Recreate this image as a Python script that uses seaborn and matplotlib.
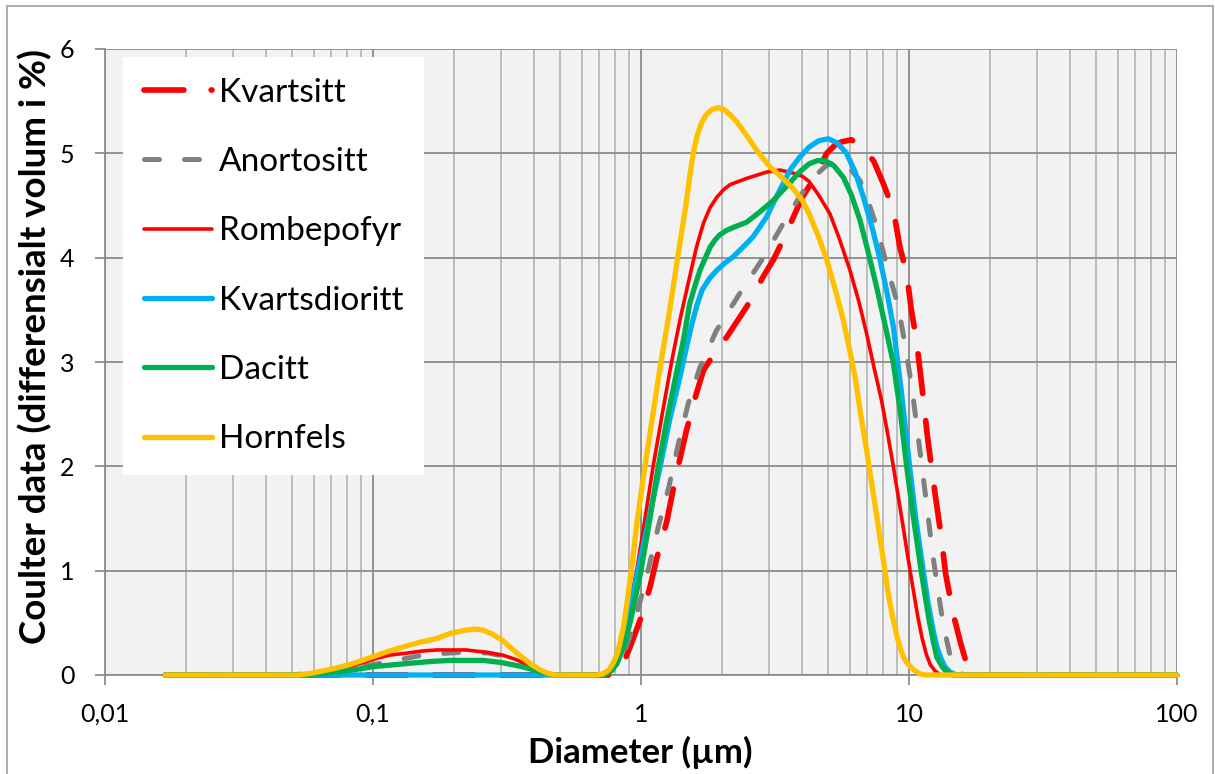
import numpy as np
import pandas as pd
import matplotlib
matplotlib.use("Agg")
import matplotlib.pyplot as plt
import seaborn as sns
from matplotlib.ticker import LogLocator, FixedLocator, FixedFormatter, NullFormatter
from matplotlib.patches import Rectangle

# ---------------- data ----------------
series_names = ["Kvartsitt", "Anortositt", "Rombepofyr", "Kvartsdioritt", "Dacitt", "Hornfels"]

kvartsitt_d = [0.0168, 0.76, 0.79, 0.82, 0.86, 0.92, 0.99, 1.08, 1.14, 1.25, 1.34, 1.48, 1.61,
               1.71, 1.9, 2.09, 2.48, 2.86, 3.12, 3.45, 3.98, 4.45, 4.93, 5.3, 5.6, 6.1, 6.76,
               7.4, 8.02, 8.74, 9.25, 9.8, 10.2, 10.66, 11.1, 11.7, 12.3, 13.2, 13.7, 14.6,
               15.6, 16.4, 17.2, 17.9, 100]
kvartsitt_v = [0, 0, 0.01, 0.04, 0.11, 0.3, 0.52, 0.84, 1.1, 1.48, 1.87, 2.35, 2.7,
               2.92, 3.1, 3.24, 3.53, 3.82, 3.98, 4.21, 4.57, 4.77, 5.0, 5.08, 5.11, 5.13, 5.06,
               4.92, 4.71, 4.46, 4.1, 3.85, 3.5, 3.21, 2.83, 2.3, 1.87, 1.32, 0.97, 0.59,
               0.3, 0.11, 0.03, 0, 0]

anortositt_d = [0.0168, 0.05, 0.07, 0.085, 0.1, 0.116, 0.153, 0.19, 0.224, 0.27, 0.32, 0.37,
                0.42, 0.46, 0.49, 0.72, 0.76, 0.81, 0.86, 0.91, 0.96, 1.01, 1.06, 1.16, 1.27,
                1.38, 1.5, 1.66, 1.91, 2.34, 2.86, 3.4, 3.9, 4.4, 4.9, 5.37, 5.9, 6.56, 7.0,
                7.57, 8.35, 9.12, 9.8, 10.4, 11.3, 12.3, 13.4, 14.2, 15.0, 16.0, 100]
anortositt_v = [0, 0, 0.04, 0.07, 0.1, 0.13, 0.19, 0.21, 0.22, 0.21, 0.17, 0.1,
                0.04, 0.01, 0, 0, 0.02, 0.08, 0.2, 0.37, 0.57, 0.78, 0.99, 1.42, 1.8,
                2.22, 2.6, 2.95, 3.3, 3.66, 4.0, 4.33, 4.58, 4.77, 4.88, 4.93, 4.88, 4.74, 4.56,
                4.3, 3.88, 3.53, 3.08, 2.63, 1.9, 1.13, 0.49, 0.2, 0.06, 0, 0]

rombepofyr_d = [0.0168, 0.057, 0.065, 0.075, 0.087, 0.1, 0.115, 0.134, 0.153, 0.173, 0.222,
                0.26, 0.305, 0.34, 0.37, 0.40, 0.43, 0.46, 0.49,
                0.70, 0.73, 0.76, 0.79, 0.83, 0.88, 0.92, 0.964, 1.035, 1.11, 1.2, 1.3, 1.41,
                1.52, 1.61, 1.71, 1.81, 1.92, 2.03, 2.15, 2.48, 2.94, 3.3, 3.7, 4.0, 4.24,
                4.6, 5.07, 5.5, 6.02, 6.5, 6.95, 7.4, 7.9, 8.3, 8.74, 9.4, 10.09, 10.8, 11.2,
                11.6, 12.0, 12.5, 13.1, 100]
rombepofyr_v = [0, 0, 0.02, 0.05, 0.1, 0.15, 0.19, 0.21, 0.23, 0.24, 0.24,
                0.22, 0.19, 0.15, 0.11, 0.07, 0.03, 0.01, 0,
                0, 0.01, 0.05, 0.12, 0.27, 0.52, 0.75, 1.0, 1.5, 2.0, 2.5, 3.0, 3.45,
                3.82, 4.1, 4.33, 4.48, 4.58, 4.65, 4.70, 4.76, 4.82, 4.84, 4.81, 4.78, 4.73,
                4.6, 4.42, 4.18, 3.88, 3.58, 3.27, 2.95, 2.63, 2.33, 2.0, 1.5, 1.0, 0.55, 0.35,
                0.2, 0.1, 0.04, 0, 0]

kvartsdioritt_d = [0.0168, 0.70, 0.73, 0.76, 0.80, 0.84, 0.88, 0.93, 0.975, 1.07, 1.18, 1.28,
                   1.39, 1.46, 1.55, 1.62, 1.69, 1.8, 1.92, 2.06, 2.21, 2.4, 2.62, 2.94, 3.3,
                   3.6, 3.9, 4.24, 4.6, 5.0, 5.4, 5.85, 6.3, 6.76, 7.3, 7.8, 8.3, 8.74, 9.38,
                   10.0, 10.6, 11.3, 11.8, 12.3, 12.7, 13.1, 13.6, 14.2, 15.0, 100]
kvartsdioritt_v = [0, 0, 0.01, 0.04, 0.14, 0.3, 0.49, 0.75, 1.0, 1.5, 2.0, 2.45,
                   2.83, 3.08, 3.37, 3.55, 3.69, 3.8, 3.88, 3.95, 4.01, 4.1, 4.20, 4.39, 4.65,
                   4.84, 4.96, 5.06, 5.12, 5.14, 5.1, 5.0, 4.82, 4.58, 4.28, 3.98, 3.65, 3.34, 2.7,
                   2.05, 1.5, 1.0, 0.68, 0.43, 0.27, 0.17, 0.08, 0.03, 0, 0]

dacitt_d = [0.0168, 0.05, 0.062, 0.075, 0.09, 0.1, 0.134, 0.165, 0.194, 0.258, 0.30, 0.345,
            0.385, 0.42, 0.46, 0.49, 0.71, 0.74, 0.77, 0.81, 0.86, 0.91, 0.96, 1.0, 1.08, 1.16,
            1.25, 1.34, 1.44, 1.52, 1.59, 1.66, 1.74, 1.81, 1.89, 1.97, 2.08, 2.21, 2.48, 2.78,
            3.12, 3.6, 3.9, 4.24, 4.55, 4.86, 5.25, 5.69, 6.1, 6.56, 7.0, 7.57, 8.1, 8.74,
            9.25, 9.8, 10.4, 11.1, 11.5, 11.9, 12.3, 12.7, 13.3, 13.8, 14.5, 100]
dacitt_v = [0, 0, 0.01, 0.03, 0.06, 0.08, 0.11, 0.13, 0.14, 0.14, 0.12, 0.09,
            0.06, 0.03, 0.005, 0, 0, 0.01, 0.04, 0.1, 0.26, 0.5, 0.78, 1.0, 1.5, 2.0,
            2.45, 2.83, 3.21, 3.56, 3.73, 3.88, 4.0, 4.10, 4.17, 4.22, 4.26, 4.29, 4.34, 4.44,
            4.55, 4.72, 4.82, 4.90, 4.93, 4.93, 4.88, 4.77, 4.6, 4.36, 4.08, 3.72, 3.38, 2.99,
            2.55, 2.0, 1.5, 1.0, 0.75, 0.52, 0.33, 0.17, 0.08, 0.03, 0, 0]

hornfels_d = [0.0168, 0.053, 0.06, 0.071, 0.082, 0.1, 0.115, 0.134, 0.153, 0.173, 0.195,
              0.222, 0.24, 0.258, 0.28, 0.305, 0.33, 0.36, 0.39, 0.42, 0.45, 0.48,
              0.68, 0.72, 0.76, 0.79, 0.82, 0.86, 0.89, 0.92, 0.97, 1.035, 1.1, 1.187, 1.28,
              1.37, 1.47, 1.52, 1.567, 1.62, 1.68, 1.75, 1.84, 1.94, 2.04, 2.15, 2.28, 2.48,
              2.7, 3.03, 3.35, 3.7, 4.0, 4.24, 4.6, 4.93, 5.3, 5.69, 6.0, 6.3, 6.6, 6.95, 7.5,
              8.13, 8.4, 8.7, 9.0, 9.25, 9.5, 9.8, 10.4, 11.0, 11.5, 100]
hornfels_v = [0, 0, 0.02, 0.06, 0.1, 0.175, 0.23, 0.28, 0.32, 0.35, 0.4,
              0.43, 0.44, 0.43, 0.39, 0.33, 0.25, 0.17, 0.1, 0.05, 0.015, 0,
              0, 0.01, 0.05, 0.12, 0.22, 0.46, 0.72, 1.0, 1.5, 2.0, 2.45, 3.0, 3.5,
              4.0, 4.5, 4.78, 5.0, 5.17, 5.29, 5.37, 5.42, 5.44, 5.42, 5.37, 5.30, 5.17,
              5.03, 4.87, 4.77, 4.66, 4.55, 4.42, 4.2, 3.98, 3.7, 3.40, 3.12, 2.85, 2.5, 2.15, 1.6,
              1.0, 0.75, 0.55, 0.38, 0.27, 0.18, 0.12, 0.05, 0.01, 0, 0]

xtick_values = [0.01, 0.1, 1, 10, 100]
xtick_labels = ["0,01", "0,1", "1", "10", "100"]
ytick_values = [0, 1, 2, 3, 4, 5, 6]
ytick_labels = ["0", "1", "2", "3", "4", "5", "6"]

# ---------------- styles ----------------
colors = {"Kvartsitt": "#FF0000", "Anortositt": "#808080", "Rombepofyr": "#FF0000",
          "Kvartsdioritt": "#00B0F0", "Dacitt": "#00B050", "Hornfels": "#FFC000"}
widths = {"Kvartsitt": 4.1, "Anortositt": 3.6, "Rombepofyr": 2.6,
          "Kvartsdioritt": 3.8, "Dacitt": 3.8, "Hornfels": 3.8}
styles = {"Kvartsitt": (0, (7, 4.8)), "Anortositt": (0, (3, 5)), "Rombepofyr": "-",
          "Kvartsdioritt": "-", "Dacitt": "-", "Hornfels": "-"}

series_d = [kvartsitt_d, anortositt_d, rombepofyr_d, kvartsdioritt_d, dacitt_d, hornfels_d]
series_v = [kvartsitt_v, anortositt_v, rombepofyr_v, kvartsdioritt_v, dacitt_v, hornfels_v]

frames = []
for name, d, v in zip(series_names, series_d, series_v):
    frames.append(pd.DataFrame({"Diameter": d, "Verdi": v, "Serie": name}))
df = pd.concat(frames, ignore_index=True)

sns.set_theme(style="white")
plt.rcParams["font.family"] = ["Lato", "DejaVu Sans"]

W, H = 1215, 774
fig = plt.figure(figsize=(W / 100, H / 100), dpi=100)
fig.patch.set_facecolor("white")
left, right, top, bottom = 105, 1177, 49, 675
ax = fig.add_axes([left / W, 1 - bottom / H, (right - left) / W, (bottom - top) / H])
ax.set_facecolor("#F2F2F2")
ax.set_xscale("log")

for i, name in enumerate(series_names):
    sub = df[df["Serie"] == name]
    sns.lineplot(data=sub, x="Diameter", y="Verdi", ax=ax, color=colors[name],
                 linewidth=widths[name], linestyle=styles[name], label=name,
                 estimator=None, sort=False, dash_capstyle="round",
                 solid_capstyle="round", solid_joinstyle="round", zorder=3 + i)

for ln in ax.lines:
    ln.set_clip_on(False)

ax.set_xlim(0.01, 100)
ax.set_ylim(0, 6)
ax.xaxis.set_major_locator(FixedLocator(xtick_values))
ax.xaxis.set_major_formatter(FixedFormatter(xtick_labels))
ax.xaxis.set_minor_locator(LogLocator(base=10, subs=np.arange(2, 10)))
ax.xaxis.set_minor_formatter(NullFormatter())
ax.yaxis.set_major_locator(FixedLocator(ytick_values))
ax.yaxis.set_major_formatter(FixedFormatter(ytick_labels))

ax.set_axisbelow(True)
ax.grid(which="major", axis="both", color="#8C8C8C", linewidth=1.3)
ax.grid(which="minor", axis="x", color="#B8B8B8", linewidth=1.3)

for s in ["top", "right"]:
    ax.spines[s].set_visible(False)
for s in ["left", "bottom"]:
    ax.spines[s].set_color("#8C8C8C")
    ax.spines[s].set_linewidth(1.3)

ax.tick_params(axis="x", which="major", direction="out", length=7, width=1.3,
               color="#8C8C8C", pad=13, labelsize=18, labelcolor="black", bottom=True)
ax.tick_params(axis="x", which="minor", length=0)
ax.tick_params(axis="y", which="major", direction="out", length=7, width=1.3,
               color="#8C8C8C", pad=15, labelsize=18, labelcolor="black", left=True)

ax.set_xlabel("Diameter (µm)", fontsize=25, fontweight="bold", color="black")
ax.set_ylabel("Coulter data (differensialt volum i %)", fontsize=26.5, fontweight="bold",
              color="black")
ax.xaxis.set_label_coords(0.499, (bottom - 752) / (bottom - top))
ax.xaxis.label.set_va("center")
ax.yaxis.set_label_coords((35 - left) / (right - left), (bottom - 346) / (bottom - top))
ax.yaxis.label.set_va("center")

leg = ax.legend(loc="upper left",
                bbox_to_anchor=((123 - left) / (right - left), (bottom - 57) / (bottom - top)),
                borderaxespad=0, frameon=True, fancybox=False, framealpha=1,
                facecolor="white", edgecolor="white", fontsize=24,
                handlelength=2.05, handletextpad=0.2, labelspacing=1.18, borderpad=0.62)
leg.get_frame().set_linewidth(0)
for t in leg.get_texts():
    t.set_color("black")

fig.patches.append(Rectangle((7 / W, -0.05), (1213 - 7) / W, (H - 6) / H + 0.05,
                             transform=fig.transFigure, fill=False,
                             edgecolor="#A6A6A6", linewidth=1.3, zorder=0))

fig.savefig("out.png", dpi=100)
